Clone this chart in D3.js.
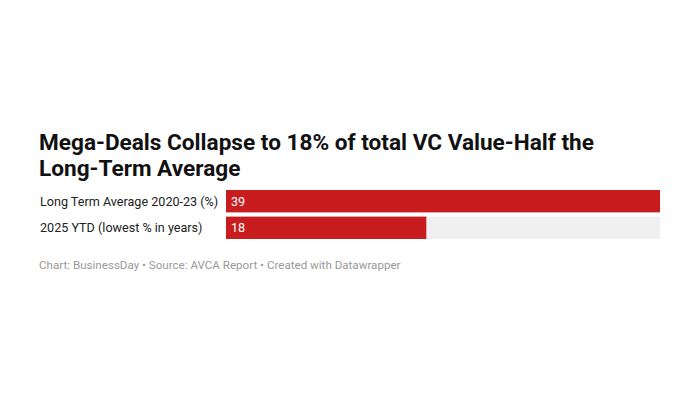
<!DOCTYPE html>
<html><head><meta charset="utf-8">
<script src="https://cdn.jsdelivr.net/npm/d3@7"></script>
<style>body{margin:0;background:#fff;font-family:Roboto,sans-serif}</style>
</head><body><svg id="c" width="700" height="400"></svg>
<script>
const categories = ["Long Term Average 2020-23 (%)", "2025 YTD (lowest % in years)"];
const values = [39, 18];
const svg = d3.select("#c");
const title = ["Mega-Deals Collapse to 18% of total VC Value-Half the", "Long-Term Average"];
svg.selectAll("text.t").data(title).join("text").attr("class","t")
  .attr("x",39).attr("y",(d,i)=>150+i*26).attr("font-size",22.6).attr("font-weight",700)
  .attr("fill","#111").text(d=>d);
const x = d3.scaleLinear().domain([0, d3.max(values)]).range([226, 660]);
const y = d3.scaleBand().domain(categories).range([190, 239]).paddingInner(0.16);
const g = svg.selectAll("g.r").data(categories).join("g").attr("class","r");
g.append("rect").attr("x",x(0)).attr("y",d=>y(d)).attr("width",x.range()[1]-x(0)).attr("height",y.bandwidth()).attr("fill","#f0f0f0");
g.append("rect").attr("x",x(0)).attr("y",d=>y(d)).attr("width",(d,i)=>x(values[i])-x(0)).attr("height",y.bandwidth()).attr("fill","#c91c1f");
g.append("text").attr("x",40).attr("y",d=>y(d)+y.bandwidth()/2+4.5).attr("font-size",12.6).attr("fill","#222").text(d=>d);
g.append("text").attr("x",x(0)+5).attr("y",d=>y(d)+y.bandwidth()/2+4.5).attr("font-size",12.6).attr("fill","#fff").text((d,i)=>values[i]);
svg.append("text").attr("x",39).attr("y",269).attr("font-size",11.6).attr("fill","#999")
  .text("Chart: BusinessDay • Source: AVCA Report • Created with Datawrapper");
</script></body></html>
